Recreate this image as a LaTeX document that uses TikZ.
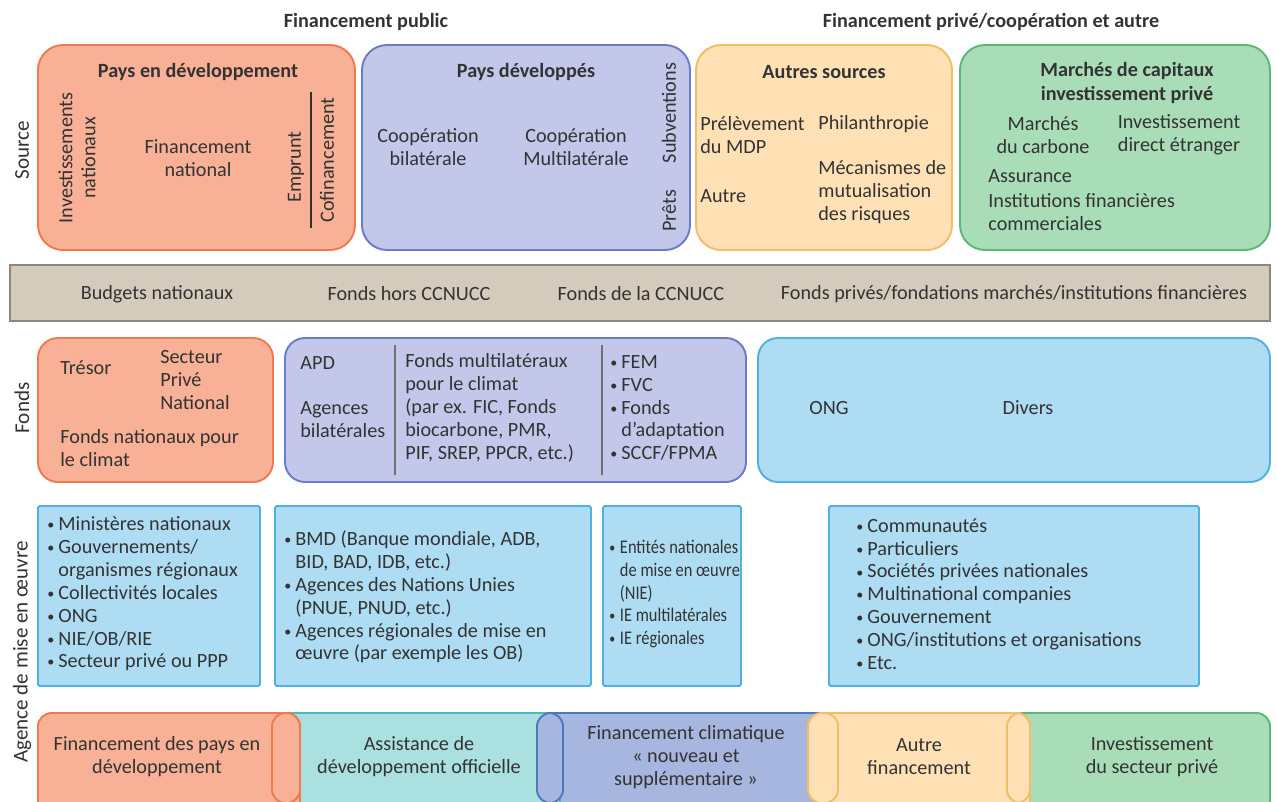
\documentclass[tikz,border=0pt]{standalone}
\usepackage{fontspec}
\setmainfont{Carlito}
\newfontfamily\narrowfont[FakeStretch=0.85]{Carlito}
\usepackage{tikz}
\usetikzlibrary{positioning}

\definecolor{orgfill}{HTML}{F8B196}
\definecolor{orgline}{HTML}{EE7B4E}
\definecolor{devfill}{HTML}{C3C8EA}
\definecolor{devline}{HTML}{6B7CC6}
\definecolor{othfill}{HTML}{FFE1B5}
\definecolor{othline}{HTML}{F5BC66}
\definecolor{prvfill}{HTML}{A9DDB7}
\definecolor{prvline}{HTML}{5DB878}
\definecolor{skyfill}{HTML}{AEDDF3}
\definecolor{skyline}{HTML}{4FB1E0}
\definecolor{bandfill}{HTML}{D4CBBD}
\definecolor{bandline}{HTML}{8E887C}
\definecolor{oadfill}{HTML}{ABE0E0}
\definecolor{oadline}{HTML}{4DB7C2}
\definecolor{nwfill}{HTML}{A7B6DE}
\definecolor{nwline}{HTML}{4A78C2}
\definecolor{txt}{HTML}{333333}

\newcommand{\bul}{\makebox[0.55em][l]{\raisebox{0.1ex}{\footnotesize\textbullet}}}
\newcommand{\ind}{\hspace*{0.55em}}

\begin{document}
\begin{tikzpicture}[
    x=0.02cm, y=-0.02cm,
    every node/.style={text=txt, font=\fontsize{11.5}{13}\selectfont},
    panel/.style={line width=1.1pt, rounded corners=0.5cm},
    fundbox/.style={line width=1.1pt, rounded corners=0.4cm},
    agentbox/.style={draw=skyline, fill=skyfill, line width=1.1pt, rounded corners=1pt},
    pill/.style={line width=1.1pt, rounded corners=0.27cm},
    head/.style={font=\fontsize{11.5}{13.5}\selectfont\bfseries, align=center, inner sep=0pt},
    lbl/.style={align=center, inner sep=0pt},
    lft/.style={align=left, inner sep=0pt, anchor=west},
    side/.style={rotate=90, inner sep=0pt, align=center}
]
\useasboundingbox (0,0) rectangle (1277,801);

% En-têtes
\node[head] (hpub) at (366,22) {Financement public};
\node[head] (hpriv) at (991,22) {Financement privé/coopération et autre};

% Source
\node[side, font=\fontsize{12}{13.5}\selectfont] (lsrc) at (22,150) {Source};
\draw[panel, draw=orgline, fill=orgfill] (38,45) rectangle (355,250);
\draw[panel, draw=devline, fill=devfill] (362,45) rectangle (690,250);
\draw[panel, draw=othline, fill=othfill] (696,45) rectangle (952,250);
\draw[panel, draw=prvline, fill=prvfill] (960,45) rectangle (1270,250);

\node[head] (pdev) at (198,72) {Pays en développement};
\node[side] (invn) at (77,158) {Investissements\\nationaux};
\node[lbl] (finn) at (198,158) {Financement\\national};
\node[side] (empr) at (296,167) {Emprunt};
\node[side] (cofi) at (327,160) {Cofinancement};
\draw[txt, line width=0.8pt] (311,92) -- (311,228);

\node[head] (pdvp) at (526,72) {Pays développés};
\node[lbl] (cbil) at (428,147) {Coopération\\bilatérale};
\node[lbl] (cmul) at (576,147) {Coopération\\Multilatérale};
\node[side] (subv) at (669,113) {Subventions};
\node[side] (pret) at (669,211) {Prêts};

\node[head] (autr) at (824,72) {Autres sources};
\node[lft] (mdp) at (700,135) {Prélèvement\\du MDP};
\node[lft] (autre) at (700,196) {Autre};
\node[lft] (phil) at (818,124) {Philanthropie};
\node[lft] (meca) at (818,192) {Mécanismes de\\mutualisation\\des risques};

\node[head] (marc) at (1127,83) {Marchés de capitaux\\investissement privé};
\node[lbl] (carb) at (1043,135) {Marchés\\du carbone};
\node[lbl] (ide) at (1179,135) {Investissement\\direct étranger};
\node[lft] (assu) at (988,176) {Assurance};
\node[lft] (inst) at (988,212) {Institutions financières\\commerciales};

% Bande grise
\draw[draw=bandline, fill=bandfill, line width=1.3pt] (10,265) rectangle (1270,321);
\node[lbl] (bnat) at (157,294) {Budgets nationaux};
\node[lbl] (fhors) at (409,294) {Fonds hors CCNUCC};
\node[lbl] (fccn) at (641,294) {Fonds de la CCNUCC};
\node[lbl] (fpriv) at (1014,294) {Fonds privés/fondations marchés/institutions financières};

% Fonds
\node[side, font=\fontsize{12}{13.5}\selectfont] (lfon) at (22,408) {Fonds};
\draw[fundbox, draw=orgline, fill=orgfill] (38,338) rectangle (273,482);
\draw[fundbox, draw=devline, fill=devfill] (285,338) rectangle (746,482);
\draw[fundbox, draw=skyline, fill=skyfill] (758,338) rectangle (1270,482);
\draw[txt!70, line width=0.8pt] (395,345) -- (395,475);
\draw[txt!70, line width=0.8pt] (602,345) -- (602,475);

\node[lft] (tres) at (60,368) {Trésor};
\node[lft] (sect) at (160,380) {Secteur\\Privé\\National};
\node[lft] (fncl) at (60,448) {Fonds nationaux pour\\le climat};
\node[lft] (apd) at (300,363) {APD};
\node[lft] (abil) at (300,420) {Agences\\bilatérales};
\node[lft] (fmul) at (405,408) {Fonds multilatéraux\\pour le climat\\(par ex. FIC, Fonds\\biocarbone, PMR,\\PIF, SREP, PPCR, etc.)};
\node[lft] (fem) at (610,408) {\bul FEM\\\bul FVC\\\bul Fonds\\\ind d'adaptation\\\bul SCCF/FPMA};
\node[lbl] (ong) at (829,408) {ONG};
\node[lbl] (div) at (1028,408) {Divers};

% Agence de mise en œuvre
\node[side, font=\fontsize{12}{13.5}\selectfont] (lage) at (22,652) {Agence de mise en œuvre};
\draw[agentbox] (38,506) rectangle (260,686);
\draw[agentbox] (275,506) rectangle (591,686);
\draw[agentbox] (603,506) rectangle (741,686);
\draw[agentbox] (829,506) rectangle (1199,686);

\node[lft] (ag1) at (47,594) {\bul Ministères nationaux\\\bul Gouvernements/\\\ind organismes régionaux\\\bul Collectivités locales\\\bul ONG\\\bul NIE/OB/RIE\\\bul Secteur privé ou PPP};
\node[lft] (ag2) at (284,597) {\bul BMD (Banque mondiale, ADB,\\\ind BID, BAD, IDB, etc.)\\\bul Agences des Nations Unies\\\ind (PNUE, PNUD, etc.)\\\bul Agences régionales de mise en\\\ind œuvre (par exemple les OB)};
\node[lft, font=\narrowfont\fontsize{11}{13}\selectfont] (ag3) at (609,594) {\bul Entités nationales\\\ind de mise en œuvre\\\ind (NIE)\\\bul IE multilatérales\\\bul IE régionales};
\node[lft] (ag4) at (856,594) {\bul Communautés\\\bul Particuliers\\\bul Sociétés privées nationales\\\bul Multinational companies\\\bul Gouvernement\\\bul ONG/institutions et organisations\\\bul Etc.};

% Bande du bas
\begin{scope}
\clip (0,0) rectangle (1277,801);
\draw[pill, draw=prvline, fill=prvfill] (990,713) rectangle (1270,840);
\draw[pill, draw=othline, fill=othfill] (800,713) rectangle (1030,840);
\draw[pill, draw=nwline, fill=nwfill] (530,713) rectangle (830,840);
\draw[pill, draw=oadline, fill=oadfill] (260,713) rectangle (560,840);
\draw[pill, draw=orgline, fill=orgfill] (38,713) rectangle (300,840);
\draw[pill, draw=orgline, fill=orgfill] (272,713) rectangle (300,803);
\draw[pill, draw=nwline, fill=nwfill] (537,713) rectangle (563,803);
\draw[pill, draw=othline, fill=othfill] (808,713) rectangle (838,803);
\draw[pill, draw=othline, fill=othfill] (1007,713) rectangle (1030,803);
\end{scope}

\node[lbl] (bpd) at (157,757) {Financement des pays en\\développement};
\node[lbl] (bado) at (419,757) {Assistance de\\développement officielle};
\node[lbl] (bnou) at (686,757) {Financement climatique\\« nouveau et\\supplémentaire »};
\node[lbl] (baut) at (919,757) {Autre\\financement};
\node[lbl] (binv) at (1152,757) {Investissement\\du secteur privé};
\end{tikzpicture}
\end{document}
